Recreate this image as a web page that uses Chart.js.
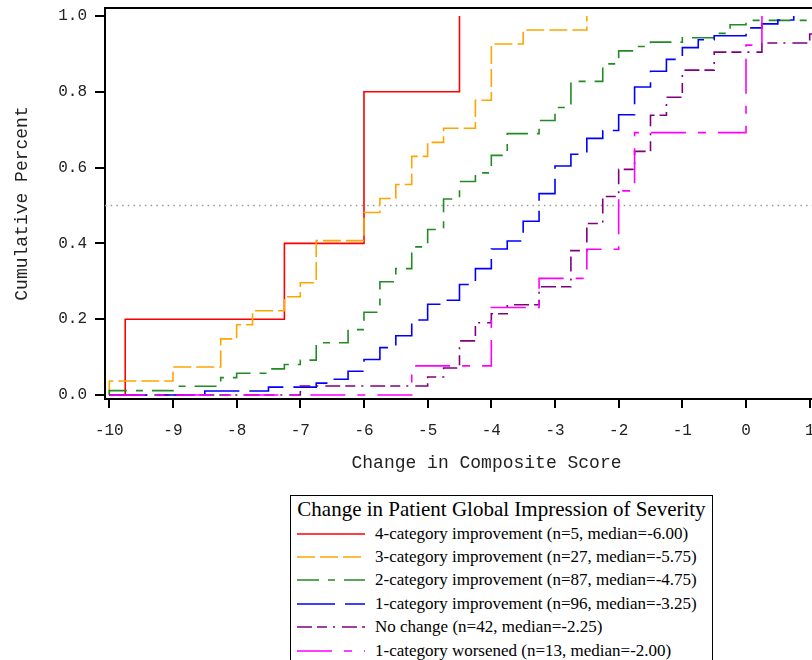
<!DOCTYPE html>
<html>
<head>
<meta charset="utf-8">
<title>Change in Composite Score by PGI-S change</title>
<script src="https://cdn.jsdelivr.net/npm/chart.js@4.4.1/dist/chart.umd.min.js"></script>
<style>
    html, body { margin: 0; padding: 0; background: #fff; }
    #page { position: relative; width: 812px; height: 660px; overflow: hidden; }
    #cdfChart { position: absolute; left: 0; top: 0; }
    #legend {
        position: absolute; left: 290px; top: 495px; width: 421px; height: 220px;
        border: 1px solid #000; background: #fff; color: #000;
        font-family: "Liberation Serif", "DejaVu Serif", serif;
    }
    #legend .title { height: 26px; line-height: 26px; text-align: center; font-size: 21px; white-space: nowrap; }
    #legend .row { height: 23.4px; display: flex; align-items: center; font-size: 17px; white-space: nowrap; }
    #legend svg { margin-left: 6px; margin-right: 10px; flex: none; }
</style>
</head>
<body>
<div id="page">
    <canvas id="cdfChart" width="868" height="480"></canvas>
    <div id="legend"></div>
</div>
<script>
const groupLabels = [
    "4-category improvement (n=5, median=-6.00)",
    "3-category improvement (n=27, median=-5.75)",
    "2-category improvement (n=87, median=-4.75)",
    "1-category improvement (n=96, median=-3.25)",
    "No change (n=42, median=-2.25)",
    "1-category worsened (n=13, median=-2.00)"
];
const groupN = [5, 27, 87, 96, 42, 13];

// score where the step happens, and cumulative count up to that score
const improve4Scores = [-9.75, -7.25, -6, -4.5];
const improve4Counts = [1, 2, 4, 5];
const improve3Scores = [-10, -9, -8.25, -8, -7.75, -7.25, -7, -6.75, -6, -5.75, -5.5, -5.25, -5, -4.75, -4.25, -4, -3.5, -2.5];
const improve3Counts = [1, 2, 4, 5, 6, 7, 8, 11, 13, 14, 15, 17, 18, 19, 21, 25, 26, 27];
const improve2Scores = [-10, -9, -8.25, -8, -7.5, -7.25, -7, -6.75, -6.25, -6, -5.75, -5.5, -5.25, -5, -4.75, -4.5, -4.25, -4, -3.75, -3.25, -3, -2.75, -2.25, -2, -1.75, -1.5, -1, -0.5, -0.25, 0];
const improve2Counts = [1, 2, 4, 5, 6, 7, 8, 12, 15, 19, 26, 29, 34, 38, 45, 49, 51, 55, 60, 63, 66, 72, 76, 79, 80, 81, 82, 83, 85, 86];
const improve1Scores = [-8.5, -7.5, -6.75, -6.5, -6.25, -6, -5.75, -5.5, -5.25, -5, -4.75, -4.5, -4.25, -4, -3.75, -3.5, -3.25, -3, -2.75, -2.5, -2.25, -2, -1.75, -1.5, -1.25, -1, -0.75, -0.5, 0, 0.25, 0.5, 0.75];
const improve1Counts = [1, 2, 3, 4, 6, 9, 12, 15, 19, 23, 24, 28, 32, 37, 39, 44, 51, 58, 61, 65, 67, 71, 78, 82, 85, 88, 90, 91, 93, 94, 95, 96];
const noChangeScores = [-7, -5, -4.75, -4.5, -4.25, -4, -3.75, -3.25, -2.75, -2.5, -2.25, -2, -1.75, -1.5, -1.25, -1, -0.5, 0.25, 1];
const noChangeCounts = [1, 2, 3, 6, 8, 9, 10, 12, 16, 19, 22, 25, 27, 31, 33, 36, 38, 39, 40];
const worse1Scores = [-5.25, -4, -3.25, -2.5, -2, -1.75, 0, 0.25];
const worse1Counts = [1, 3, 4, 5, 7, 9, 12, 13];

const xTicks = [-10, -9, -8, -7, -6, -5, -4, -3, -2, -1, 0, 1];
const yTicks = [0, 0.2, 0.4, 0.6, 0.8, 1.0];
const refLevel = 0.5;

const xMin = -10.0675;
const xMax = 1.916;
const yMin = -0.01055;
const yMax = 1.0211;

const groupColors = ["#ff0000", "#ffa500", "#228b22", "#0000ff", "#800080", "#ff00ff"];
const groupDashes = [[], [18, 5], [22, 9, 7, 9], [38, 10], [15, 5, 10, 6, 2, 7], [35, 12, 8, 12]];

const allScores = [improve4Scores, improve3Scores, improve2Scores, improve1Scores, noChangeScores, worse1Scores];
const allCounts = [improve4Counts, improve3Counts, improve2Counts, improve1Counts, noChangeCounts, worse1Counts];

const datasets = groupLabels.map((label, i) => {
    const n = groupN[i];
    const points = [{ x: xTicks[0], y: 0 }];
    allScores[i].forEach((score, k) => {
        points.push({ x: score, y: allCounts[i][k] / n });
    });
    const last = allCounts[i][allCounts[i].length - 1];
    if (last < n) {
        // not complete within the plotted range: carry the level to the edge
        points.push({ x: xMax, y: last / n });
    }
    return {
        label,
        data: points,
        stepped: "before",
        borderColor: groupColors[i],
        borderWidth: 1.6,
        borderDash: groupDashes[i],
        pointRadius: 0,
        fill: false,
        order: groupLabels.length - i
    };
});

const framePlugin = {
    id: "frame",
    beforeDatasetsDraw(chart) {
        const { ctx, chartArea, scales } = chart;
        const y = scales.y.getPixelForValue(refLevel);
        ctx.save();
        ctx.strokeStyle = "#999";
        ctx.lineWidth = 1.5;
        ctx.setLineDash([1.5, 4.2]);
        ctx.beginPath();
        ctx.moveTo(chartArea.left, y);
        ctx.lineTo(chartArea.right, y);
        ctx.stroke();
        ctx.restore();
    },
    afterDraw(chart) {
        const { ctx, chartArea } = chart;
        ctx.save();
        ctx.strokeStyle = "#000";
        ctx.lineWidth = 2;
        ctx.beginPath();
        ctx.moveTo(chartArea.left, chartArea.top);
        ctx.lineTo(chartArea.right, chartArea.top);
        ctx.stroke();
        ctx.restore();
    }
};

Chart.defaults.font.family = "'Liberation Mono', monospace";
Chart.defaults.color = "#222";

new Chart(document.getElementById("cdfChart"), {
    type: "line",
    data: { datasets },
    options: {
        responsive: false,
        animation: false,
        devicePixelRatio: 1,
        layout: { padding: { top: 8, left: 0, right: 0, bottom: 0 } },
        plugins: {
            legend: { display: false },
            tooltip: { enabled: false }
        },
        scales: {
            x: {
                type: "linear",
                min: xMin,
                max: xMax,
                afterBuildTicks: (scale) => { scale.ticks = xTicks.map((v) => ({ value: v })); },
                afterFit: (scale) => {
                    scale.height = 81;
                    scale.paddingLeft = 0;
                    scale.paddingRight = 0;
                },
                ticks: {
                    autoSkip: false,
                    maxRotation: 0,
                    padding: 13,
                    font: { size: 16 },
                    callback: (v) => String(v)
                },
                grid: { drawOnChartArea: false, drawTicks: true, tickLength: 9, color: "#000", lineWidth: 2 },
                border: { display: true, color: "#000", width: 2 },
                title: {
                    display: true,
                    text: "Change in Composite Score",
                    font: { size: 18 },
                    padding: { top: 0, bottom: 6 }
                }
            },
            y: {
                min: yMin,
                max: yMax,
                afterBuildTicks: (scale) => { scale.ticks = yTicks.map((v) => ({ value: v })); },
                afterFit: (scale) => {
                    scale.width = 105;
                    scale.paddingTop = 0;
                    scale.paddingBottom = 0;
                },
                ticks: {
                    padding: 8,
                    font: { size: 16 },
                    callback: (v) => Number(v).toFixed(1)
                },
                grid: { drawOnChartArea: false, drawTicks: true, tickLength: 10, color: "#000", lineWidth: 2 },
                border: { display: true, color: "#000", width: 2 },
                title: {
                    display: true,
                    text: "Cumulative Percent",
                    font: { size: 18 },
                    padding: { top: 11, bottom: 0 }
                }
            }
        }
    },
    plugins: [framePlugin]
});

// legend box below the plot
const legend = document.getElementById("legend");
const legendTitle = document.createElement("div");
legendTitle.className = "title";
legendTitle.textContent = "Change in Patient Global Impression of Severity";
legend.appendChild(legendTitle);

groupLabels.forEach((label, i) => {
    const row = document.createElement("div");
    row.className = "row";
    const svgNS = "http://www.w3.org/2000/svg";
    const svg = document.createElementNS(svgNS, "svg");
    svg.setAttribute("width", "68");
    svg.setAttribute("height", "4");
    const line = document.createElementNS(svgNS, "line");
    line.setAttribute("x1", "0");
    line.setAttribute("y1", "2");
    line.setAttribute("x2", "68");
    line.setAttribute("y2", "2");
    line.setAttribute("stroke", groupColors[i]);
    line.setAttribute("stroke-width", "1.6");
    if (groupDashes[i].length) {
        line.setAttribute("stroke-dasharray", groupDashes[i].join(" "));
    }
    svg.appendChild(line);
    const text = document.createElement("span");
    text.textContent = label;
    row.appendChild(svg);
    row.appendChild(text);
    legend.appendChild(row);
});
</script>
</body>
</html>
